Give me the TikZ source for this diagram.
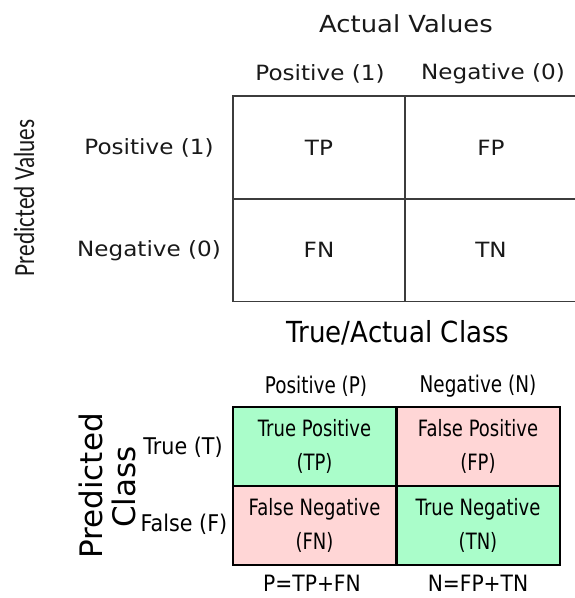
\documentclass[tikz,border=0pt]{standalone}
\usepackage{fontspec}
\usepackage{graphicx}
\usepackage{tikz}
\newfontfamily\widefont[FakeStretch=1.1]{DejaVu Sans}
\newfontfamily\narrowfont[FakeStretch=0.8]{DejaVu Sans}
\newfontfamily\midfont[FakeStretch=0.9]{DejaVu Sans}
\newfontfamily\plainfont{DejaVu Sans}
\newfontfamily\calfont{Carlito}
\definecolor{hitc}{RGB}{170,253,202}
\definecolor{missc}{RGB}{255,214,214}
\definecolor{inkc}{RGB}{25,25,25}
\tikzset{
  topcell/.style={draw=inkc!85,line width=1.3pt,minimum width=172pt,minimum height=103pt,inner sep=0pt,
    text=inkc,font=\widefont\fontsize{21}{23}\selectfont},
  toplab/.style={text=inkc,inner sep=0pt,font=\widefont\fontsize{21}{23}\selectfont},
  botcell/.style={draw=black,line width=2pt,minimum width=163pt,minimum height=79pt,inner sep=0pt,
    align=center,font=\narrowfont\fontsize{22.5}{34}\selectfont},
  botlab/.style={inner sep=0pt,font=\midfont\fontsize{23}{25}\selectfont},
  bothead/.style={inner sep=0pt,font=\narrowfont\fontsize{23}{25}\selectfont}
}
\begin{document}
\begin{tikzpicture}[x=1pt,y=-1pt]
\useasboundingbox (0,0) rectangle (574,598);
% upper matrix: actual vs predicted values
\node[text=inkc,inner sep=0pt,font=\widefont\fontsize{23.5}{25}\selectfont] (actual) at (406,24) {Actual Values};
\node[toplab] (apos) at (320,74) {Positive (1)};
\node[toplab] (aneg) at (493,74) {Negative (0)};
\node[topcell] (tp) at (319,147.5) {TP};
\node[topcell] (fp) at (491,147.5) {FP};
\node[topcell] (fn) at (319,250) {FN};
\node[topcell] (tn) at (491,250) {TN};
\node[toplab] (ppos) at (149,148) {Positive (1)};
\node[toplab] (pneg) at (149,251) {Negative (0)};
\node[rotate=90,inner sep=0pt,text=inkc,font=\calfont\fontsize{23.3}{25}\selectfont] (predv) at (24,198)
  {\scalebox{1}[1.25]{Predicted Values}};
% lower matrix: true/actual class vs predicted class
\node[inner sep=0pt,font=\midfont\fontsize{29}{31}\selectfont] (trueact) at (398,333) {True/Actual Class};
\node[bothead] (cpos) at (316,386) {Positive (P)};
\node[bothead] (cneg) at (478,386) {Negative (N)};
\node[botcell,fill=hitc] (ctp) at (314.5,446.5) {True Positive\\(TP)};
\node[botcell,fill=missc] (cfp) at (478,446.5) {False Positive\\(FP)};
\node[botcell,fill=missc] (cfn) at (314.5,525.5) {False Negative\\(FN)};
\node[botcell,fill=hitc] (ctn) at (478,525.5) {True Negative\\(TN)};
\node[botlab] (rtrue) at (183,447) {True (T)};
\node[botlab] (rfalse) at (184,524) {False (F)};
\node[rotate=90,inner sep=0pt,font=\plainfont\fontsize{31}{33}\selectfont] (predc) at (91,486) {Predicted};
\node[rotate=90,inner sep=0pt,font=\plainfont\fontsize{31}{33}\selectfont] (classc) at (124,487) {Class};
\node[botlab,font=\midfont\fontsize{22.5}{24}\selectfont] (psum) at (312,583) {P=TP+FN};
\node[botlab,font=\midfont\fontsize{22.5}{24}\selectfont] (nsum) at (478,583) {N=FP+TN};
\end{tikzpicture}
\end{document}
